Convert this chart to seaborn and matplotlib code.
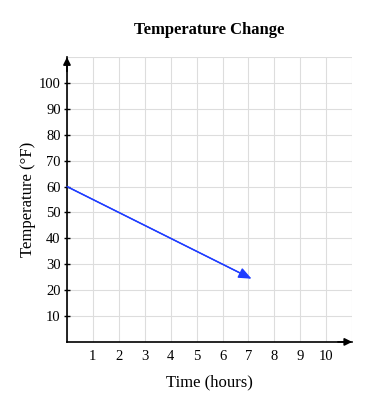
import matplotlib
matplotlib.use("Agg")
import matplotlib.pyplot as plt
import seaborn as sns
import pandas as pd

time_hours = [0, 7]
temperature_f = [60, 25]
x_ticks = [1, 2, 3, 4, 5, 6, 7, 8, 9, 10]
y_ticks = [10, 20, 30, 40, 50, 60, 70, 80, 90, 100]

sns.set_theme(style="whitegrid")
plt.rcParams['font.family'] = ['Liberation Serif', 'DejaVu Serif']
plt.rcParams['text.color'] = 'black'
plt.rcParams['axes.labelcolor'] = 'black'
plt.rcParams['xtick.color'] = 'black'
plt.rcParams['ytick.color'] = 'black'

fig = plt.figure(figsize=(3.68, 4.08), dpi=100)
ax = fig.add_axes([0.182, 0.162, 0.775, 0.698])

df = pd.DataFrame({'time': time_hours, 'temp': temperature_f})
line_color = '#1f3dff'
sns.lineplot(data=df, x='time', y='temp', ax=ax, color=line_color, linewidth=1.0)
# arrow head at the end of the line
ax.annotate('', xy=(df['time'].iloc[-1] + 0.12, df['temp'].iloc[-1] - 0.6),
            xytext=(df['time'].iloc[-2], df['temp'].iloc[-2]),
            arrowprops=dict(arrowstyle='-|>,head_length=0.6,head_width=0.25',
                            color=line_color, lw=1.0,
                            mutation_scale=13, shrinkA=0, shrinkB=0))

ax.set_xlim(0, 11)
ax.set_ylim(0, 110)
ax.set_xticks(x_ticks)
ax.set_yticks(y_ticks)
ax.set_xticks(range(0, 12), minor=True)
ax.set_yticks(range(0, 111, 10), minor=True)
ax.grid(True, which='both', color='#dddddd', linewidth=0.8)
ax.set_facecolor('white')

for s in ['top', 'right']:
    ax.spines[s].set_visible(False)
for s in ['left', 'bottom']:
    ax.spines[s].set_color('black')
    ax.spines[s].set_linewidth(1.2)

ax.tick_params(axis='y', which='major', direction='inout', length=5, width=1,
               color='black', labelsize=10.5, pad=2, left=True)
ax.tick_params(axis='x', which='major', length=0, labelsize=10.5, pad=6)
ax.tick_params(which='minor', length=0)

# axis arrows
ax.annotate('', xy=(1.0, 0), xytext=(0.95, 0), xycoords='axes fraction',
            arrowprops=dict(arrowstyle='-|>', color='black', lw=1.2, mutation_scale=11,
                            shrinkA=0, shrinkB=0), annotation_clip=False)
ax.annotate('', xy=(0, 1.0), xytext=(0, 0.95), xycoords='axes fraction',
            arrowprops=dict(arrowstyle='-|>', color='black', lw=1.2, mutation_scale=11,
                            shrinkA=0, shrinkB=0), annotation_clip=False)

ax.set_xlabel('Time (hours)', fontsize=12, labelpad=8)
ax.set_ylabel('Temperature (°F)', fontsize=12, labelpad=2)
ax.set_title('Temperature Change', fontsize=12, fontweight='bold', pad=17)

fig.savefig('out.png', dpi=100)
